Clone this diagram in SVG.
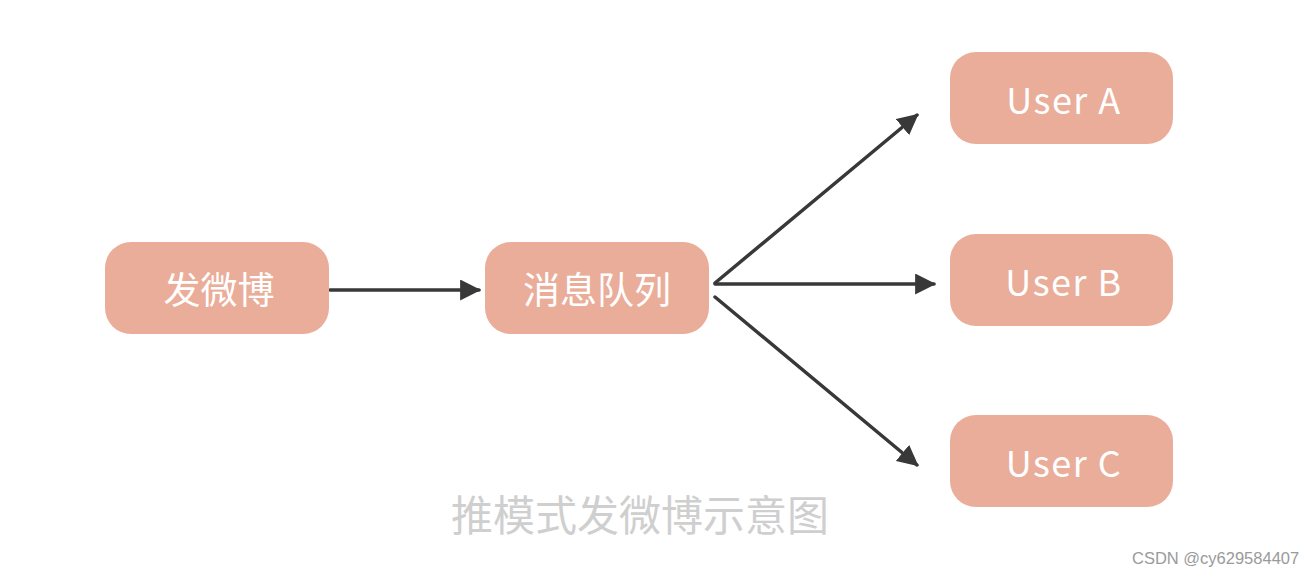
<svg xmlns="http://www.w3.org/2000/svg" width="1314" height="578" viewBox="0 0 1314 578">
<style>
.node rect{fill:#EAAD9A;}
.node text{fill:#ffffff;font-family:"Noto Sans CJK SC","Noto Sans",sans-serif;font-size:37px;text-anchor:middle;dominant-baseline:central;}
.node text.u{font-size:36px;letter-spacing:1.5px;}
.conn line{stroke:#383838;stroke-width:3.5;stroke-linecap:round;}
.cap{fill:#cfcfcf;font-family:"Noto Sans CJK SC",sans-serif;font-size:42px;text-anchor:middle;}
.wm{fill:#9a9a9a;font-family:"Liberation Sans",Arial,sans-serif;font-size:16.5px;}
</style>
<defs>
<marker id="ah" viewBox="0 0 10 10" refX="9" refY="5" markerWidth="6" markerHeight="6" markerUnits="strokeWidth" orient="auto">
<path d="M0,0 L10,5 L0,10 z" fill="#383838"/>
</marker>
</defs>
<rect width="1314" height="578" fill="#ffffff"/>
<g class="conn">
<line x1="330" y1="290" x2="479" y2="290" marker-end="url(#ah)"/>
<line x1="715" y1="283" x2="917" y2="115" marker-end="url(#ah)"/>
<line x1="715" y1="284" x2="934" y2="284" marker-end="url(#ah)"/>
<line x1="715" y1="297" x2="917" y2="465" marker-end="url(#ah)"/>
</g>
<g id="n1" class="node"><rect x="105" y="242" width="224" height="92" rx="26"/><text x="219" y="288">发微博</text></g>
<g id="n2" class="node"><rect x="485" y="242" width="224" height="92" rx="26"/><text x="597" y="288">消息队列</text></g>
<g id="uA" class="node"><rect x="950" y="52" width="223" height="92" rx="26"/><text class="u" x="1064" y="98">User A</text></g>
<g id="uB" class="node"><rect x="950" y="234" width="223" height="92" rx="26"/><text class="u" x="1064" y="280">User B</text></g>
<g id="uC" class="node"><rect x="950" y="415" width="223" height="92" rx="26"/><text class="u" x="1064" y="461">User C</text></g>
<text class="cap" x="640" y="531">推模式发微博示意图</text>
<text class="wm" x="1132" y="564">CSDN @cy629584407</text>
</svg>
